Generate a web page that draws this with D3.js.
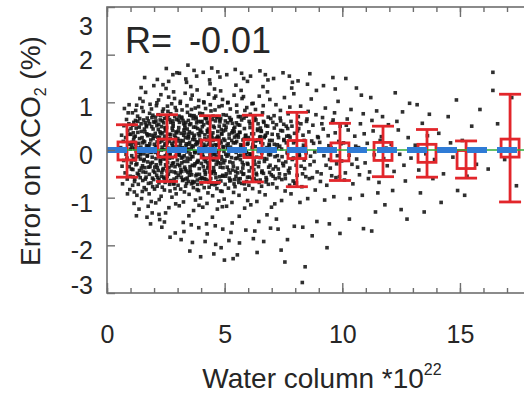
<!DOCTYPE html>
<html>
<head>
<meta charset="utf-8">
<script src="https://cdn.jsdelivr.net/npm/d3@7"></script>
<style>
  html, body { margin: 0; padding: 0; background: #fff; overflow: hidden; }
  text { font-family: "Liberation Sans", Arial, Helvetica, sans-serif; fill: #262626; }
</style>
</head>
<body>
<svg id="chart" width="524" height="394"></svg>
<script>
// ---- data -------------------------------------------------------------
const xTicks = [0, 5, 10, 15];
const yTicks = [-3, -2, -1, 0, 1, 2, 3];
const correlation = -0.01;

// binned statistics of the error (mean and spread per water-column bin)
const binCentres = [0.85, 2.55, 4.38, 6.2, 8.07, 9.9, 11.73, 13.6, 15.26, 17.13];
const binMeans   = [-0.02, 0.04, 0.02, 0.03, 0.01, -0.04, -0.03, -0.07, -0.2, 0.04];
const binSpreads = [0.55, 0.7, 0.7, 0.7, 0.78, 0.6, 0.53, 0.5, 0.39, 1.13];

// linear fit of error against water column
const fitSlope = 0.0;
const fitIntercept = 0.0;

// individual soundings: water column (1e22), error on XCO2 (%) as x,y pairs
const soundings = [
  0.62,0.31, 0.71,-0.22, 0.58,0.05, 0.83,0.64, 0.77,-0.48, 0.91,0.12, 0.66,-0.71, 0.95,-0.35, 0.88,0.41, 0.74,0.87,
  0.97,-0.83, 0.69,0.18, 0.81,-0.09, 0.93,0.55, 0.86,-0.61, 0.79,0.26, 0.99,0.02, 0.64,-0.34, 0.9,0.78, 0.85,-0.17,
  0.96,0.33, 0.72,0.51, 0.98,-0.55, 0.87,-0.92, 0.94,0.95,
  1.02,0.45, 1.05,-0.12, 1.08,0.78, 1.11,-0.56, 1.13,0.21, 1.16,-0.88, 1.18,0.03, 1.21,0.62, 1.23,-0.31, 1.26,0.94,
  1.28,-0.05, 1.31,0.37, 1.33,-0.72, 1.35,0.14, 1.38,-0.43, 1.4,1.08, 1.42,-0.19, 1.45,0.55, 1.47,-1.02, 1.49,0.26,
  1.52,-0.64, 1.54,0.81, 1.57,-0.08, 1.59,0.44, 1.61,-0.37, 1.64,1.21, 1.66,-0.83, 1.68,0.09, 1.71,0.67, 1.73,-0.25,
  1.75,-1.18, 1.78,0.32, 1.8,-0.51, 1.83,0.96, 1.85,0.01, 1.87,-0.69, 1.9,0.49, 1.92,-0.15, 1.95,0.73, 1.97,-0.44,
  1.99,1.35, 1.03,-0.27, 1.07,0.16, 1.1,-0.41, 1.14,0.58, 1.17,-0.66, 1.2,0.29, 1.24,-0.02, 1.27,-0.95, 1.3,0.71,
  1.34,-0.14, 1.37,0.48, 1.41,-0.58, 1.44,0.06, 1.48,0.89, 1.51,-0.33, 1.55,0.19, 1.58,-0.79, 1.62,0.57, 1.65,-0.47,
  1.69,0.34, 1.72,-0.11, 1.76,0.61, 1.79,-0.92, 1.82,0.13, 1.86,-0.28, 1.89,0.86, 1.93,-0.59, 1.96,0.24, 1.04,0.11,
  1.09,-0.74, 1.12,0.36, 1.19,-0.21, 1.22,0.83, 1.29,-0.49, 1.32,0.04, 1.36,-1.24, 1.39,0.66, 1.43,-0.06, 1.46,0.39,
  1.5,-0.87, 1.53,1.02, 1.56,-0.23, 1.6,0.17, 1.63,-0.61, 1.67,0.52, 1.7,-1.41, 1.74,0.08, 1.77,-0.36, 1.81,0.77,
  1.84,-0.04, 1.88,-1.08, 1.91,0.31, 1.94,-0.77, 1.98,0.59, 1.25,-1.38, 1.6,1.52, 1.85,-1.55, 1.45,1.31, 1.92,-1.32,
  1.15,-1.12,
  2.01,0.12, 2.03,-0.47, 2.06,0.69, 2.08,-0.18, 2.1,0.93, 2.13,-0.76, 2.15,0.27, 2.17,-0.03, 2.2,0.54, 2.22,-1.04,
  2.25,0.38, 2.27,-0.29, 2.29,1.16, 2.32,-0.55, 2.34,0.06, 2.36,0.81, 2.39,-0.39, 2.41,0.22, 2.44,-0.84, 2.46,0.47,
  2.48,-0.12, 2.51,1.29, 2.53,-0.63, 2.56,0.15, 2.58,-0.26, 2.6,0.72, 2.63,-1.21, 2.65,0.33, 2.67,-0.07, 2.7,0.58,
  2.72,-0.45, 2.75,0.97, 2.77,-0.16, 2.79,0.41, 2.82,-0.71, 2.84,0.02, 2.87,1.08, 2.89,-0.35, 2.91,0.26, 2.94,-0.92,
  2.96,0.64, 2.99,-0.21, 2.02,-0.82, 2.05,0.35, 2.09,-0.31, 2.12,0.51, 2.16,-0.58, 2.19,1.05, 2.23,-0.14, 2.26,0.63,
  2.3,-0.97, 2.33,0.19, 2.37,-0.42, 2.4,0.86, 2.43,0.01, 2.47,-0.68, 2.5,0.44, 2.54,-0.09, 2.57,0.92, 2.61,-0.51,
  2.64,0.18, 2.68,-0.86, 2.71,0.76, 2.74,-0.33, 2.78,0.09, 2.81,0.55, 2.85,-0.61, 2.88,0.31, 2.92,-1.13, 2.95,0.83,
  2.98,-0.04, 2.04,0.58, 2.07,-1.11, 2.11,0.08, 2.14,-0.37, 2.18,0.74, 2.21,-0.62, 2.24,0.16, 2.28,-0.23, 2.31,0.49,
  2.35,-0.78, 2.38,1.37, 2.42,-0.19, 2.45,0.29, 2.49,-1.32, 2.52,0.67, 2.55,-0.44, 2.59,0.04, 2.62,1.11, 2.66,-0.72,
  2.69,0.24, 2.73,-0.02, 2.76,-0.99, 2.8,0.61, 2.83,-0.27, 2.86,0.17, 2.9,0.89, 2.93,-0.48, 2.97,0.36, 2.05,-0.05,
  2.12,0.99, 2.18,-0.43, 2.24,-1.46, 2.29,0.34, 2.35,0.61, 2.41,-0.57, 2.47,0.13, 2.53,-0.34, 2.59,0.81, 2.65,-0.17,
  2.71,-0.64, 2.77,0.46, 2.83,1.22, 2.89,-0.81, 2.95,0.07, 2.14,1.48, 2.33,-1.62, 2.52,1.71, 2.68,-1.83, 2.8,1.58,
  2.44,-1.51, 2.9,-1.74, 2.21,-1.35, 2.62,1.44, 2.97,1.62,
  3.01,0.24, 3.03,-0.53, 3.06,0.71, 3.08,-0.11, 3.11,0.98, 3.13,-0.82, 3.15,0.35, 3.18,-0.27, 3.2,0.05, 3.23,0.62,
  3.25,-1.09, 3.27,0.42, 3.3,-0.36, 3.32,1.19, 3.35,-0.61, 3.37,0.13, 3.39,-0.04, 3.42,0.79, 3.44,-0.47, 3.47,0.28,
  3.49,-0.93, 3.51,0.53, 3.54,-0.19, 3.56,1.33, 3.59,-0.71, 3.61,0.09, 3.63,-0.32, 3.66,0.66, 3.68,-1.27, 3.71,0.31,
  3.73,-0.06, 3.75,0.88, 3.78,-0.54, 3.8,0.17, 3.83,-0.83, 3.85,0.45, 3.87,-0.22, 3.9,1.04, 3.92,-0.39, 3.95,0.21,
  3.97,-1.01, 3.99,0.59, 3.02,-0.74, 3.05,0.47, 3.09,-0.33, 3.12,0.14, 3.16,-0.57, 3.19,0.84, 3.22,-0.15, 3.26,0.55,
  3.29,-0.88, 3.33,0.26, 3.36,-0.44, 3.4,0.93, 3.43,0.02, 3.46,-0.66, 3.5,0.38, 3.53,-0.08, 3.57,1.07, 3.6,-0.52,
  3.64,0.22, 3.67,-0.79, 3.7,0.72, 3.74,-0.29, 3.77,0.11, 3.81,0.57, 3.84,-0.63, 3.88,0.34, 3.91,-1.16, 3.94,0.77,
  3.98,-0.01, 3.04,0.63, 3.07,-1.17, 3.1,0.07, 3.14,-0.41, 3.17,0.69, 3.21,-0.64, 3.24,0.19, 3.28,-0.24, 3.31,0.46,
  3.34,-0.76, 3.38,1.42, 3.41,-0.17, 3.45,0.33, 3.48,-1.38, 3.52,0.73, 3.55,-0.46, 3.58,0.03, 3.62,1.15, 3.65,-0.69,
  3.69,0.27, 3.72,-0.03, 3.76,-1.05, 3.79,0.65, 3.82,-0.26, 3.86,0.16, 3.89,0.91, 3.93,-0.51, 3.96,0.39, 3.05,-0.09,
  3.12,1.02, 3.18,-0.45, 3.24,-1.52, 3.29,0.36, 3.35,0.58, 3.41,-0.59, 3.47,0.12, 3.53,-0.35, 3.59,0.85, 3.65,-0.14,
  3.71,-0.67, 3.77,0.48, 3.83,1.26, 3.89,-0.85, 3.95,0.04, 3.08,1.61, 3.27,-1.71, 3.44,1.78, 3.63,-1.94, 3.81,1.55,
  3.52,-2.12, 3.9,-1.63, 3.15,-1.88, 3.7,1.67, 3.98,-2.24, 3.35,1.49, 3.58,-1.57,
  4.01,0.18, 4.03,-0.58, 4.06,0.76, 4.08,-0.14, 4.11,1.01, 4.13,-0.79, 4.16,0.32, 4.18,-0.24, 4.2,0.08, 4.23,0.65,
  4.25,-1.12, 4.28,0.39, 4.3,-0.33, 4.32,1.17, 4.35,-0.64, 4.37,0.16, 4.4,-0.07, 4.42,0.82, 4.44,-0.49, 4.47,0.25,
  4.49,-0.96, 4.52,0.5, 4.54,-0.21, 4.57,1.28, 4.59,-0.73, 4.61,0.11, 4.64,-0.3, 4.66,0.68, 4.69,-1.24, 4.71,0.29,
  4.74,-0.02, 4.76,0.91, 4.78,-0.56, 4.81,0.19, 4.83,-0.86, 4.86,0.43, 4.88,-0.2, 4.91,1.06, 4.93,-0.37, 4.96,0.23,
  4.98,-1.03, 4.02,-0.71, 4.05,0.49, 4.09,-0.35, 4.12,0.12, 4.15,-0.6, 4.19,0.87, 4.22,-0.17, 4.26,0.57, 4.29,-0.9,
  4.33,0.28, 4.36,-0.46, 4.39,0.95, 4.43,0.03, 4.46,-0.69, 4.5,0.36, 4.53,-0.1, 4.56,1.09, 4.6,-0.5, 4.63,0.24,
  4.67,-0.81, 4.7,0.7, 4.73,-0.27, 4.77,0.14, 4.8,0.59, 4.84,-0.65, 4.87,0.35, 4.9,-1.19, 4.94,0.74, 4.97,-0.03,
  4.04,0.6, 4.07,-1.2, 4.1,0.05, 4.14,-0.43, 4.17,0.67, 4.21,-0.62, 4.24,0.21, 4.27,-0.26, 4.31,0.44, 4.34,-0.78,
  4.38,1.39, 4.41,-0.16, 4.45,0.31, 4.48,-1.41, 4.51,0.71, 4.55,-0.45, 4.58,0.02, 4.62,1.13, 4.65,-0.7, 4.68,0.26,
  4.72,-0.05, 4.75,-1.07, 4.79,0.63, 4.82,-0.28, 4.85,0.15, 4.89,0.93, 4.92,-0.53, 4.95,0.4, 4.06,-0.1, 4.12,0.99,
  4.18,-0.47, 4.23,-1.55, 4.29,0.37, 4.35,0.56, 4.41,-0.6, 4.47,0.1, 4.53,-0.37, 4.59,0.84, 4.65,-0.13, 4.71,-0.66,
  4.77,0.5, 4.83,1.24, 4.89,-0.87, 4.95,0.06, 4.09,1.63, 4.26,-1.76, 4.45,1.72, 4.62,-1.98, 4.8,1.53, 4.54,-2.18,
  4.92,-1.66, 4.17,-1.92, 4.71,1.64, 4.99,-2.31, 4.36,1.47, 4.6,-1.59, 4.85,-2.05,
  5.01,0.2, 5.04,-0.55, 5.07,0.73, 5.1,-0.13, 5.13,0.99, 5.16,-0.8, 5.19,0.33, 5.22,-0.25, 5.25,0.06, 5.28,0.64,
  5.31,-1.1, 5.34,0.4, 5.37,-0.34, 5.4,1.15, 5.43,-0.62, 5.46,0.15, 5.49,-0.05, 5.52,0.8, 5.55,-0.48, 5.58,0.27,
  5.61,-0.95, 5.64,0.52, 5.67,-0.2, 5.7,1.25, 5.73,-0.7, 5.76,0.1, 5.79,-0.31, 5.82,0.67, 5.85,-1.22, 5.88,0.3,
  5.91,-0.04, 5.94,0.89, 5.97,-0.57, 5.02,-0.72, 5.06,0.48, 5.11,-0.36, 5.15,0.13, 5.2,-0.59, 5.24,0.86, 5.29,-0.16,
  5.33,0.56, 5.38,-0.89, 5.42,0.27, 5.47,-0.45, 5.51,0.94, 5.56,0.02, 5.6,-0.68, 5.65,0.37, 5.69,-0.11, 5.74,1.08,
  5.78,-0.51, 5.83,0.23, 5.87,-0.82, 5.92,0.71, 5.96,-0.28, 5.99,0.14, 5.03,0.61, 5.08,-1.18, 5.12,0.04, 5.17,-0.42,
  5.21,0.68, 5.26,-0.63, 5.3,0.2, 5.35,-0.27, 5.39,0.45, 5.44,-0.77, 5.48,1.36, 5.53,-0.17, 5.57,0.32, 5.62,-1.39,
  5.66,0.7, 5.71,-0.46, 5.75,0.01, 5.8,1.12, 5.84,-0.71, 5.89,0.25, 5.93,-0.06, 5.98,-1.06, 5.05,-0.09, 5.14,1.0,
  5.23,-0.48, 5.32,-1.53, 5.41,0.38, 5.5,0.57, 5.59,-0.61, 5.68,0.11, 5.77,-0.38, 5.86,0.83, 5.95,-0.14, 5.09,1.58,
  5.27,-1.73, 5.45,1.69, 5.63,-1.95, 5.81,1.5, 5.54,-2.2, 5.9,-1.68, 5.18,-1.9, 5.72,1.61, 5.36,-2.28, 5.97,1.44,
  6.02,0.22, 6.05,-0.57, 6.09,0.75, 6.12,-0.12, 6.16,0.97, 6.19,-0.81, 6.23,0.34, 6.26,-0.23, 6.3,0.07, 6.33,0.63,
  6.37,-1.08, 6.4,0.41, 6.44,-0.35, 6.47,1.13, 6.51,-0.63, 6.54,0.16, 6.58,-0.06, 6.61,0.78, 6.65,-0.49, 6.68,0.26,
  6.72,-0.94, 6.75,0.51, 6.79,-0.19, 6.82,1.22, 6.86,-0.72, 6.89,0.12, 6.93,-0.32, 6.96,0.66, 6.99,-1.2, 6.03,-0.74,
  6.08,0.47, 6.14,-0.37, 6.2,0.12, 6.25,-0.6, 6.31,0.85, 6.36,-0.15, 6.42,0.55, 6.48,-0.88, 6.53,0.28, 6.59,-0.44,
  6.64,0.93, 6.7,0.03, 6.76,-0.67, 6.81,0.36, 6.87,-0.1, 6.92,1.06, 6.98,-0.52, 6.04,0.6, 6.11,-1.15, 6.17,0.05,
  6.24,-0.41, 6.29,0.69, 6.35,-0.64, 6.41,0.21, 6.46,-0.26, 6.52,0.46, 6.57,-0.76, 6.63,1.33, 6.69,-0.18, 6.74,0.31,
  6.8,-1.36, 6.85,0.69, 6.91,-0.47, 6.97,0.02, 6.07,-0.08, 6.21,0.98, 6.34,-0.49, 6.45,-1.5, 6.56,0.39, 6.67,0.58,
  6.78,-0.62, 6.9,0.1, 6.1,1.55, 6.28,-1.7, 6.5,1.66, 6.66,-1.92, 6.84,1.47, 6.38,-2.15, 6.95,-1.64, 6.22,-1.86,
  6.73,1.58,
  7.02,0.2, 7.06,-0.55, 7.1,0.72, 7.14,-0.14, 7.18,0.95, 7.22,-0.79, 7.26,0.32, 7.3,-0.22, 7.34,0.08, 7.38,0.61,
  7.42,-1.06, 7.46,0.4, 7.5,-0.33, 7.54,1.1, 7.58,-0.6, 7.62,0.15, 7.66,-0.05, 7.7,0.76, 7.74,-0.48, 7.78,0.27,
  7.82,-0.92, 7.86,0.5, 7.9,-0.18, 7.94,1.18, 7.98,-0.7, 7.04,-0.71, 7.11,0.46, 7.17,-0.35, 7.24,0.11, 7.31,-0.58,
  7.37,0.83, 7.44,-0.14, 7.51,0.54, 7.57,-0.86, 7.64,0.29, 7.71,-0.43, 7.77,0.9, 7.84,0.02, 7.91,-0.65, 7.97,0.35,
  7.05,0.58, 7.13,-1.13, 7.21,0.04, 7.28,-0.4, 7.36,0.67, 7.43,-0.62, 7.52,0.2, 7.6,-0.25, 7.68,0.45, 7.76,-0.74,
  7.85,1.3, 7.93,-0.17, 7.08,1.5, 7.27,-1.66, 7.48,1.62, 7.67,-1.88, 7.88,1.42, 7.4,-2.1, 7.96,-1.6, 7.2,-1.45,
  7.75,1.55, 7.56,-2.35,
  8.03,0.18, 8.08,-0.53, 8.13,0.7, 8.18,-0.13, 8.23,0.92, 8.28,-0.77, 8.33,0.31, 8.38,-0.21, 8.43,0.06, 8.48,0.6,
  8.53,-1.02, 8.58,0.38, 8.63,-0.31, 8.68,1.07, 8.73,-0.58, 8.78,0.14, 8.83,-0.04, 8.88,0.74, 8.93,-0.46, 8.98,0.26,
  8.05,-0.69, 8.15,0.45, 8.25,-0.34, 8.35,0.1, 8.45,-0.56, 8.55,0.81, 8.65,-0.13, 8.75,0.52, 8.85,-0.84, 8.95,0.28,
  8.1,0.57, 8.2,-1.1, 8.3,0.03, 8.4,-0.39, 8.5,0.65, 8.6,-0.6, 8.7,0.19, 8.8,-0.24, 8.9,1.25, 8.12,1.45,
  8.32,-1.62, 8.52,1.38, 8.72,-1.8, 8.92,-1.5, 8.3,-2.78, 8.42,-2.45, 8.62,1.6,
  9.04,0.16, 9.1,-0.5, 9.16,0.68, 9.22,-0.12, 9.28,0.88, 9.34,-0.74, 9.4,0.3, 9.46,-0.2, 9.52,0.05, 9.58,0.58,
  9.64,-0.98, 9.7,0.36, 9.76,-0.29, 9.82,1.02, 9.88,-0.56, 9.94,0.13, 9.07,-0.66, 9.19,0.44, 9.31,-0.32, 9.43,0.09,
  9.55,-0.54, 9.67,0.78, 9.79,-0.12, 9.91,0.5, 9.13,0.55, 9.25,-1.05, 9.37,0.02, 9.49,-0.38, 9.61,0.63, 9.73,-0.58,
  9.85,0.18, 9.97,-0.23, 9.2,1.35, 9.45,-1.55, 9.7,1.28, 9.9,-1.75, 9.35,-2.05, 9.6,1.52,
  10.05,0.15, 10.13,-0.48, 10.21,0.65, 10.29,-0.11, 10.37,0.85, 10.45,-0.71, 10.53,0.29, 10.61,-0.19, 10.69,0.05,
  10.77,0.55, 10.85,-0.95, 10.93,0.34, 10.09,-0.63, 10.25,0.42, 10.41,-0.3, 10.57,0.08, 10.73,-0.52, 10.89,0.76,
  10.17,0.52, 10.33,-1.02, 10.49,0.01, 10.65,-0.36, 10.81,1.15, 10.97,-0.27, 10.3,-1.45, 10.6,1.3, 10.9,-1.65,
  10.15,1.5,
  11.06,0.14, 11.16,-0.46, 11.26,0.62, 11.36,-0.1, 11.46,0.82, 11.56,-0.68, 11.66,0.28, 11.76,-0.18, 11.86,0.04,
  11.96,0.53, 11.11,-0.6, 11.31,0.4, 11.51,-0.9, 11.71,0.7, 11.91,-0.33, 11.21,1.1, 11.41,-1.3, 11.61,0.2,
  11.81,-1.15, 11.25,-1.7,
  12.08,0.12, 12.2,-0.45, 12.32,0.6, 12.44,-0.09, 12.56,0.8, 12.68,-0.65, 12.8,0.26, 12.92,-0.17, 12.14,-0.85,
  12.38,0.42, 12.62,-0.32, 12.86,0.98, 12.5,-1.25, 12.25,1.2, 12.75,-1.45,
  13.1,0.1, 13.25,-0.42, 13.4,0.56, 13.55,-0.08, 13.7,0.75, 13.85,-0.6, 13.32,-0.9, 13.62,0.3, 13.92,-0.2,
  13.18,0.95, 13.48,-1.3,
  14.1,0.35, 14.3,-0.5, 14.5,0.7, 14.7,-0.15, 14.9,-0.85, 14.2,-1.1, 14.6,0.15, 14.85,1.05,
  15.1,0.2, 15.3,-0.55, 15.5,0.5, 15.7,-0.3, 15.2,-0.95, 15.85,0.85,
  16.2,-0.4, 16.6,0.55, 16.9,-0.2, 17.2,1.1, 17.4,-0.75, 16.4,1.25, 16.4,1.63,
  // densest part of the cloud, near zero error
  1.01,0.33, 1.04,-0.4, 1.06,0.05, 1.09,0.52, 1.12,-0.18, 1.15,0.27, 1.18,-0.61, 1.21,0.11, 1.24,0.46, 1.27,-0.29,
  1.31,0.6, 1.34,-0.52, 1.38,0.24, 1.42,-0.1, 1.46,-0.38,
  1.51,0.15, 1.53,-0.46, 1.56,0.63, 1.58,-0.2, 1.61,0.38, 1.63,0.02, 1.66,-0.57, 1.68,0.49, 1.71,-0.13, 1.73,0.3,
  1.76,-0.7, 1.78,0.07, 1.81,0.55, 1.83,-0.35, 1.86,0.21, 1.88,-0.05, 1.91,0.68, 1.93,-0.26, 1.96,0.44, 1.98,-0.62,
  2.01,0.29, 2.03,-0.36, 2.06,0.05, 2.08,0.61, 2.11,-0.53, 2.13,0.17, 2.16,-0.08, 2.18,0.43, 2.21,-0.69, 2.23,0.26,
  2.26,-0.22, 2.28,0.72, 2.31,0.0, 2.33,-0.47, 2.36,0.36, 2.38,-0.15, 2.41,0.57, 2.43,-0.6, 2.46,0.1, 2.48,0.4,
  2.49,-0.31, 2.45,0.66,
  2.51,-0.18, 2.53,0.47, 2.56,-0.55, 2.58,0.23, 2.61,0.02, 2.63,-0.37, 2.66,0.64, 2.68,-0.09, 2.71,0.32, 2.73,-0.66,
  2.76,0.14, 2.78,-0.28, 2.81,0.5, 2.83,0.06, 2.86,-0.46, 2.88,0.7, 2.91,-0.13, 2.93,0.38, 2.96,-0.58, 2.98,0.19,
  2.55,0.71, 2.85,-0.71,
  3.01,-0.3, 3.03,0.4, 3.06,-0.05, 3.08,0.58, 3.11,-0.48, 3.13,0.2, 3.16,-0.17, 3.18,0.67, 3.21,0.03, 3.23,-0.62,
  3.26,0.31, 3.28,-0.12, 3.31,0.52, 3.33,-0.4, 3.36,0.09, 3.38,-0.7, 3.41,0.44, 3.43,-0.24, 3.46,0.62, 3.48,0.0,
  3.5,-0.53, 3.45,0.25,
  3.51,0.16, 3.53,-0.42, 3.56,0.55, 3.58,-0.14, 3.61,0.35, 3.63,-0.66, 3.66,0.07, 3.68,0.48, 3.71,-0.33, 3.73,0.22,
  3.76,-0.04, 3.78,0.69, 3.81,-0.51, 3.83,0.13, 3.86,-0.25, 3.88,0.6, 3.91,-0.07, 3.93,0.3, 3.96,-0.6, 3.98,0.42,
  3.6,0.72, 3.85,-0.72,
  4.01,-0.28, 4.03,0.37, 4.06,-0.6, 4.08,0.05, 4.11,0.53, 4.13,-0.19, 4.16,0.24, 4.18,-0.51, 4.21,0.68, 4.23,-0.03,
  4.26,0.41, 4.28,-0.38, 4.31,0.12, 4.33,-0.68, 4.36,0.58, 4.38,-0.11, 4.41,0.29, 4.43,-0.46, 4.46,0.02, 4.48,0.64,
  4.5,-0.2, 4.45,-0.72,
  4.51,0.2, 4.53,-0.44, 4.56,0.47, 4.58,-0.08, 4.61,0.61, 4.63,-0.58, 4.66,0.1, 4.68,-0.23, 4.71,0.39, 4.73,-0.69,
  4.76,0.26, 4.78,0.0, 4.81,-0.36, 4.83,0.66, 4.86,-0.14, 4.88,0.33, 4.91,-0.55, 4.93,0.07, 4.96,-0.27, 4.98,0.52,
  5.01,-0.22, 5.04,0.42, 5.07,-0.5, 5.1,0.1, 5.13,0.57, 5.16,-0.1, 5.19,0.25, 5.22,-0.65, 5.25,0.62, 5.28,-0.02,
  5.31,0.36, 5.34,-0.42, 5.37,0.15, 5.4,-0.71, 5.43,0.48, 5.46,-0.18, 5.49,0.3, 5.48,-0.55,
  5.51,0.18, 5.54,-0.38, 5.57,0.53, 5.6,-0.12, 5.63,0.37, 5.66,-0.6, 5.69,0.06, 5.72,0.63, 5.75,-0.26, 5.78,0.21,
  5.81,-0.5, 5.84,0.45, 5.87,-0.07, 5.9,0.31, 5.93,-0.66, 5.96,0.12, 5.99,-0.3, 5.58,0.7,
  6.01,0.26, 6.04,-0.44, 6.08,0.55, 6.11,-0.09, 6.15,0.34, 6.18,-0.61, 6.22,0.08, 6.25,0.62, 6.29,-0.3, 6.32,0.19,
  6.36,-0.52, 6.4,0.44, 6.43,-0.03, 6.47,-0.68, 6.49,0.27,
  6.51,-0.16, 6.55,0.4, 6.58,-0.47, 6.62,0.13, 6.65,0.6, 6.69,-0.24, 6.72,0.29, 6.76,-0.58, 6.8,0.05, 6.83,0.5,
  6.87,-0.36, 6.91,0.2, 6.95,-0.1,
  7.02,0.33, 7.06,-0.4, 7.11,0.12, 7.15,-0.6, 7.2,0.53, 7.24,-0.12, 7.29,0.26, 7.33,-0.5, 7.38,0.41, 7.42,0.02,
  7.47,-0.28, 7.52,0.22, 7.57,-0.52, 7.62,0.5, 7.67,-0.07, 7.72,0.3, 7.77,-0.38, 7.82,0.6, 7.87,-0.2, 7.93,0.15,
  8.04,-0.32, 8.1,0.4, 8.17,-0.1, 8.24,0.55, 8.31,-0.5, 8.38,0.2, 8.46,-0.06
];

// ---- layout ------------------------------------------------------------
const svg = d3.select("#chart");
const plot = { left: 107, top: 7, bottom: 293, unitX: 23.53 };
const xMax = 20;

const x = d3.scaleLinear().domain([0, xMax]).range([plot.left, plot.left + xMax * plot.unitX]);
const y = d3.scaleLinear().domain([-3, 3]).range([plot.bottom, plot.top]);

const points = d3.range(0, soundings.length, 2).map(i => ({ wc: soundings[i], err: soundings[i + 1] }));
const bins = binCentres.map((c, i) => ({ c, m: binMeans[i], s: binSpreads[i] }));

svg.append("clipPath").attr("id", "plotClip")
  .append("rect")
  .attr("x", x(0)).attr("y", y(3))
  .attr("width", x(xMax) - x(0)).attr("height", y(-3) - y(3));

const body = svg.append("g").attr("clip-path", "url(#plotClip)");

// scatter of soundings
const dot = 3.6;
body.append("g")
  .selectAll("rect")
  .data(points)
  .join("rect")
  .attr("x", d => x(d.wc) - dot / 2)
  .attr("y", d => y(d.err) - dot / 2)
  .attr("width", dot)
  .attr("height", dot)
  .attr("fill", "#121212")
  .attr("fill-opacity", 0.88);

// binned mean with spread
const red = "#e2262b";
const binG = body.append("g").attr("stroke", red).attr("stroke-width", 2.8).attr("fill", "none");
const capHalf = 11, boxHalf = 9;
binG.selectAll("line.bar").data(bins).join("line").attr("class", "bar")
  .attr("x1", d => x(d.c)).attr("x2", d => x(d.c))
  .attr("y1", d => y(d.m + d.s)).attr("y2", d => y(d.m - d.s));
binG.selectAll("line.capTop").data(bins).join("line").attr("class", "capTop")
  .attr("x1", d => x(d.c) - capHalf).attr("x2", d => x(d.c) + capHalf)
  .attr("y1", d => y(d.m + d.s)).attr("y2", d => y(d.m + d.s));
binG.selectAll("line.capBot").data(bins).join("line").attr("class", "capBot")
  .attr("x1", d => x(d.c) - capHalf).attr("x2", d => x(d.c) + capHalf)
  .attr("y1", d => y(d.m - d.s)).attr("y2", d => y(d.m - d.s));
binG.selectAll("rect").data(bins).join("rect")
  .attr("x", d => x(d.c) - boxHalf).attr("y", d => y(d.m) - boxHalf)
  .attr("width", boxHalf * 2).attr("height", boxHalf * 2);

// linear fit
body.append("line")
  .attr("x1", x(0)).attr("x2", x(xMax))
  .attr("y1", y(fitIntercept)).attr("y2", y(fitIntercept + fitSlope * xMax))
  .attr("stroke", "#2fae3a").attr("stroke-width", 1.5);

// zero reference
body.append("line")
  .attr("x1", x(0)).attr("x2", x(xMax))
  .attr("y1", y(0)).attr("y2", y(0))
  .attr("stroke", "#2f7bd6").attr("stroke-width", 6)
  .attr("stroke-dasharray", "20,10");

// ---- axes --------------------------------------------------------------
const axisColor = "#6e6e6e";
const fontFamily = '"Liberation Sans", Arial, Helvetica, sans-serif';

// frame
svg.append("rect")
  .attr("x", x(0)).attr("y", y(3))
  .attr("width", x(xMax) - x(0)).attr("height", y(-3) - y(3))
  .attr("fill", "none").attr("stroke", axisColor).attr("stroke-width", 1.6);

function styleAxis(g) {
  g.select(".domain").remove();
  g.selectAll(".tick line").attr("stroke", axisColor).attr("stroke-width", 1.4);
  g.selectAll("text").attr("fill", "#262626").attr("font-family", fontFamily);
}

// bottom: minor ticks every unit, major every 5
svg.append("g").attr("transform", `translate(0,${y(-3)})`)
  .call(d3.axisBottom(x).tickValues(d3.range(0, xMax + 1)).tickSize(-5).tickFormat(""))
  .call(styleAxis);
svg.append("g").attr("transform", `translate(0,${y(-3)})`)
  .call(d3.axisBottom(x).tickValues(xTicks).tickSize(-10).tickPadding(32).tickFormat(d3.format("d")))
  .call(styleAxis)
  .call(g => g.selectAll("text").attr("font-size", 25));

// top mirrored ticks
svg.append("g").attr("transform", `translate(0,${y(3)})`)
  .call(d3.axisTop(x).tickValues(d3.range(0, xMax + 1)).tickSize(-5).tickFormat(""))
  .call(styleAxis);
svg.append("g").attr("transform", `translate(0,${y(3)})`)
  .call(d3.axisTop(x).tickValues(xTicks).tickSize(-10).tickFormat(""))
  .call(styleAxis);

// left
const fmtY = v => (v < 0 ? "-" : "") + Math.abs(v);
svg.append("g").attr("transform", `translate(${x(0)},0)`)
  .call(d3.axisLeft(y).tickValues(yTicks).tickSize(-8).tickPadding(14).tickFormat(fmtY))
  .call(styleAxis)
  .call(g => g.selectAll("text")
    .attr("font-size", 25)
    .attr("dy", null)
    .attr("y", v => {
      const base = y(v) + 13.5;
      return Math.min(Math.max(base, y(3) + 27), y(-3)) - y(v);
    }));

// ---- text --------------------------------------------------------------
svg.append("text")
  .attr("x", 125).attr("y", 53)
  .attr("font-size", 36)
  .call(t => t.append("tspan").text("R="))
  .call(t => t.append("tspan").attr("x", 189).text(d3.format(".2f")(correlation).replace("−", "-")));

const xt = svg.append("text")
  .attr("x", 322).attr("y", 388)
  .attr("text-anchor", "middle")
  .attr("font-size", 28);
xt.append("tspan").text("Water column *10");
xt.append("tspan").attr("font-size", 16).attr("dy", -13).text("22");

const yt = svg.append("text")
  .attr("transform", "translate(40,151) rotate(-90)")
  .attr("text-anchor", "middle")
  .attr("font-size", 28);
yt.append("tspan").text("Error on XCO");
yt.append("tspan").attr("font-size", 16).attr("dy", 6).text("2");
yt.append("tspan").attr("dy", -6).text(" (%)");
</script>
</body>
</html>
